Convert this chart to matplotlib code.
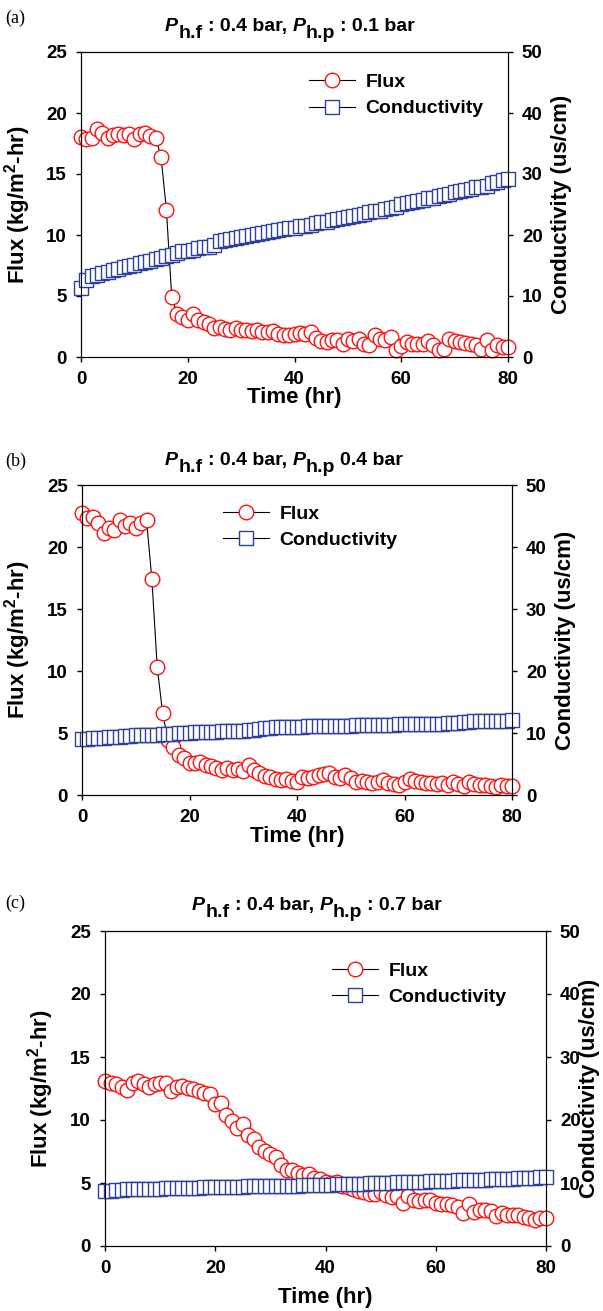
import matplotlib
matplotlib.use("Agg")
import matplotlib.pyplot as plt

# time axis (hr), one reading per hour
hours = list(range(0, 81))

# (a) P_h.p = 0.1 bar
flux_a = [18.06, 17.9, 17.97, 18.7, 18.4, 17.97, 18.16, 18.25, 18.16, 18.25,
          17.9, 18.25, 18.4, 18.1, 17.97, 16.4, 12.06, 4.9, 3.5, 3.3,
          3.0, 3.5, 3.0, 2.86, 2.7, 2.37, 2.45, 2.3, 2.18, 2.37,
          2.18, 2.18, 2.1, 2.18, 2.04, 2.04, 2.1, 1.9, 1.77, 1.77,
          1.9, 1.96, 1.9, 2.04, 1.55, 1.28, 1.23, 1.36, 1.36, 1.1,
          1.5, 1.28, 1.5, 1.1, 0.95, 1.77, 1.5, 1.36, 1.63, 0.54,
          0.9, 1.23, 1.1, 1.1, 1.1, 1.28, 0.95, 0.54, 0.68, 1.5,
          1.28, 1.23, 1.17, 1.1, 0.95, 0.63, 1.36, 0.54, 1.0, 0.82, 0.82]
cond_a = [11.3, 12.7, 13.2, 13.5, 13.8, 14.0, 14.3, 14.5, 14.7, 15.0,
          15.1, 15.4, 15.6, 15.8, 16.1, 16.3, 16.5, 16.7, 17.0, 17.3,
          17.4, 17.6, 17.8, 18.0, 18.1, 18.4, 19.0, 19.2, 19.3, 19.5,
          19.7, 19.9, 20.0, 20.2, 20.4, 20.5, 20.7, 20.9, 21.0, 21.1,
          21.2, 21.4, 21.5, 21.7, 21.9, 22.1, 22.2, 22.4, 22.6, 22.8,
          22.9, 23.1, 23.3, 23.5, 23.7, 23.9, 24.0, 24.2, 24.4, 24.6,
          25.1, 25.2, 25.4, 25.6, 25.8, 26.0, 26.1, 26.4, 26.6, 26.7,
          27.0, 27.2, 27.4, 27.6, 27.8, 27.9, 28.0, 28.6, 28.7, 29.0, 29.1]

# (b) P_h.p = 0.4 bar
flux_b = [22.77, 22.3, 22.4, 21.96, 21.16, 21.5, 21.4, 22.2, 21.7, 21.9,
          21.5, 21.9, 22.2, 17.4, 10.3, 6.6, 4.4, 3.9, 3.2, 2.96,
          2.55, 2.6, 2.7, 2.4, 2.3, 2.15, 2.0, 2.15, 2.0, 2.07,
          1.9, 2.4, 2.0, 1.75, 1.53, 1.42, 1.26, 1.2, 1.26, 1.15,
          1.07, 1.48, 1.34, 1.48, 1.6, 1.7, 1.75, 1.48, 1.34, 1.6,
          1.34, 1.07, 1.15, 1.07, 1.0, 1.07, 1.2, 1.0, 0.9, 0.8,
          1.07, 1.26, 1.15, 1.07, 1.0, 0.94, 0.9, 0.94, 0.8, 1.07,
          0.9, 0.73, 1.07, 0.9, 0.8, 0.8, 0.73, 0.67, 0.8, 0.73, 0.73]
cond_b = [9.0, 9.1, 9.15, 9.2, 9.25, 9.3, 9.35, 9.4, 9.45, 9.5,
          9.6, 9.62, 9.65, 9.7, 9.75, 9.8, 9.85, 9.9, 9.95, 10.0,
          10.05, 10.1, 10.12, 10.15, 10.2, 10.22, 10.25, 10.3, 10.32, 10.35,
          10.4, 10.42, 10.45, 10.6, 10.75, 10.85, 10.9, 10.92, 10.95, 10.97,
          11.0, 11.02, 11.05, 11.07, 11.1, 11.12, 11.15, 11.15, 11.17, 11.2,
          11.2, 11.22, 11.25, 11.27, 11.3, 11.3, 11.32, 11.35, 11.37, 11.4,
          11.4, 11.42, 11.45, 11.45, 11.47, 11.5, 11.5, 11.52, 11.55, 11.55,
          11.6, 11.75, 11.85, 11.9, 11.95, 11.95, 12.0, 12.0, 12.0, 12.0, 12.05]

# (c) P_h.p = 0.7 bar
flux_c = [13.07, 12.96, 12.83, 12.6, 12.4, 12.9, 13.07, 12.83, 12.6, 12.83,
          12.94, 12.94, 12.3, 12.6, 12.7, 12.57, 12.5, 12.27, 12.14, 12.04,
          11.24, 11.35, 10.37, 9.92, 9.4, 9.66, 8.8, 8.5, 7.86, 7.54,
          7.3, 7.1, 6.4, 6.0, 6.06, 5.8, 5.6, 5.74, 5.4, 5.34,
          5.08, 5.0, 5.08, 4.74, 4.68, 4.55, 4.37, 4.29, 4.15, 4.1,
          4.29, 4.02, 3.9, 3.94, 3.41, 3.94, 3.68, 3.57, 3.68, 3.62,
          3.41, 3.3, 3.3, 3.23, 3.1, 2.62, 3.36, 2.7, 2.88, 2.88,
          2.78, 2.35, 2.62, 2.43, 2.43, 2.5, 2.3, 2.2, 2.1, 2.2, 2.2]
cond_c = [8.7, 8.8, 8.9, 8.95, 9.0, 9.0, 9.05, 9.05, 9.1, 9.1,
          9.1, 9.15, 9.15, 9.2, 9.2, 9.2, 9.25, 9.25, 9.3, 9.3,
          9.3, 9.35, 9.35, 9.4, 9.4, 9.4, 9.45, 9.45, 9.5, 9.5,
          9.5, 9.55, 9.55, 9.6, 9.6, 9.6, 9.65, 9.65, 9.7, 9.7,
          9.75, 9.75, 9.8, 9.8, 9.85, 9.85, 9.9, 9.9, 9.95, 9.95,
          10.0, 10.05, 10.05, 10.1, 10.1, 10.15, 10.15, 10.2, 10.2, 10.25,
          10.3, 10.3, 10.35, 10.35, 10.4, 10.45, 10.45, 10.5, 10.5, 10.55,
          10.6, 10.6, 10.65, 10.7, 10.7, 10.75, 10.8, 10.8, 10.85, 10.9, 10.95]

x_ticks = [0, 20, 40, 60, 80]
flux_ticks = [0, 5, 10, 15, 20, 25]
cond_ticks = [0, 10, 20, 30, 40, 50]
panel_tags = ["(a)", "(b)", "(c)"]
hp_text = [": 0.1 bar", "0.4 bar", ": 0.7 bar"]

plt.rcParams['font.family'] = ['Liberation Sans', 'DejaVu Sans']
plt.rcParams['font.weight'] = 'bold'
plt.rcParams['axes.labelweight'] = 'bold'
plt.rcParams['mathtext.fontset'] = 'custom'
plt.rcParams['mathtext.rm'] = 'Liberation Sans:bold'
plt.rcParams['mathtext.bf'] = 'Liberation Sans:bold'
plt.rcParams['mathtext.it'] = 'Liberation Sans:bold:italic'

RED = '#FF1010'
BLUE = '#2E3F9C'
FIG_H = 1311
TICK_FS = 13.5


def draw_title(ax, x_px, y_top_px, last):
    # P_h.f : 0.4 bar, P_h.p ... written piece by piece (subscripts full size)
    parts = [("P", "italic", 0, 0), ("h.f", "normal", 0.5, -5),
             (": 0.4 bar,", "normal", 3.5, 5), ("P", "italic", 3.9, 0),
             ("h.p", "normal", 0.5, -5), (last, "normal", 3.5, 5)]
    prev = None
    for txt, style, dx, dy in parts:
        if prev is None:
            prev = ax.annotate(txt, xy=(x_px, FIG_H - y_top_px), xycoords='figure pixels',
                               ha='left', va='baseline', fontsize=14, fontstyle=style,
                               fontweight='bold', annotation_clip=False)
        else:
            prev = ax.annotate(txt, xy=(1, 0), xycoords=prev, xytext=(dx, dy),
                               textcoords='offset points', ha='left', va='bottom',
                               fontsize=14, fontstyle=style, fontweight='bold',
                               annotation_clip=False)


def draw_panel(fig, rect, flux, cond, leg_xy, ylab_x, y2lab_x, xlab_y):
    ax = fig.add_axes(rect)
    ax.plot(hours, flux, color='black', lw=0.8, marker='o', ms=10.5, mfc='white',
            mec=RED, mew=1.0, clip_on=False, label='Flux')
    ax.set_xlim(0, 80)
    ax.set_ylim(0, 25)
    ax.set_xticks(x_ticks)
    ax.set_xticklabels([str(t) for t in x_ticks], fontsize=TICK_FS, fontweight='bold')
    ax.set_yticks(flux_ticks)
    ax.set_yticklabels([str(t) for t in flux_ticks], fontsize=TICK_FS, fontweight='bold')
    ax.tick_params(direction='out', length=3.5, width=1, pad=6.5)
    ax.set_xlabel('Time (hr)', fontsize=16, fontweight='bold')
    ax.xaxis.set_label_coords(0.5, xlab_y)
    ax.set_ylabel('Flux (kg/m$^{2}$-hr)', fontsize=16, fontweight='bold')
    ax.yaxis.set_label_coords(ylab_x, 0.5)

    ax2 = ax.twinx()
    ax2.plot(hours, cond, color='black', lw=0.8, marker='s', ms=9.5, mfc='white',
             mec=BLUE, mew=1.0, clip_on=False, label='Conductivity')
    ax2.set_ylim(0, 50)
    ax2.set_yticks(cond_ticks)
    ax2.set_yticklabels([str(t) for t in cond_ticks], fontsize=TICK_FS, fontweight='bold')
    ax2.tick_params(direction='out', length=3.5, width=1, pad=6.5)
    ax2.set_ylabel('Conductivity (us/cm)', fontsize=16, fontweight='bold', rotation=90)
    ax2.yaxis.set_label_coords(y2lab_x, 0.5)

    h1, l1 = ax.get_legend_handles_labels()
    h2, l2 = ax2.get_legend_handles_labels()
    ax2.legend(h1 + h2, l1 + l2, loc='upper left', bbox_to_anchor=leg_xy,
               frameon=False, handlelength=2.35, handletextpad=0.55,
               labelspacing=0.45, borderpad=0, borderaxespad=0, numpoints=1,
               prop={'size': 14, 'weight': 'bold'})
    return ax


fig = plt.figure(figsize=(6.03, 13.11), dpi=100)

ax_a = draw_panel(fig, [81 / 603, 954 / 1311, 427 / 603, 305 / 1311], flux_a, cond_a,
                  (0.534, 0.930), -0.112, 1.10, -0.1)
ax_b = draw_panel(fig, [82 / 603, 516 / 1311, 430 / 603, 310 / 1311], flux_b, cond_b,
                  (0.328, 0.935), -0.114, 1.10, -0.1)
ax_c = draw_panel(fig, [105 / 603, 65 / 1311, 441 / 603, 315 / 1311], flux_c, cond_c,
                  (0.515, 0.901), -0.111, 1.075, -0.13)

draw_title(ax_a, 165, 31, hp_text[0])
draw_title(ax_b, 165, 465, hp_text[1])
draw_title(ax_c, 192, 910, hp_text[2])

for tag, y_px in zip(panel_tags, [18, 461, 903]):
    fig.text(5 / 603, 1 - y_px / 1311, tag, family='Liberation Serif',
             fontweight='normal', fontsize=13, ha='left', va='center')

fig.savefig('out.png', dpi=100)
plt.close(fig)
